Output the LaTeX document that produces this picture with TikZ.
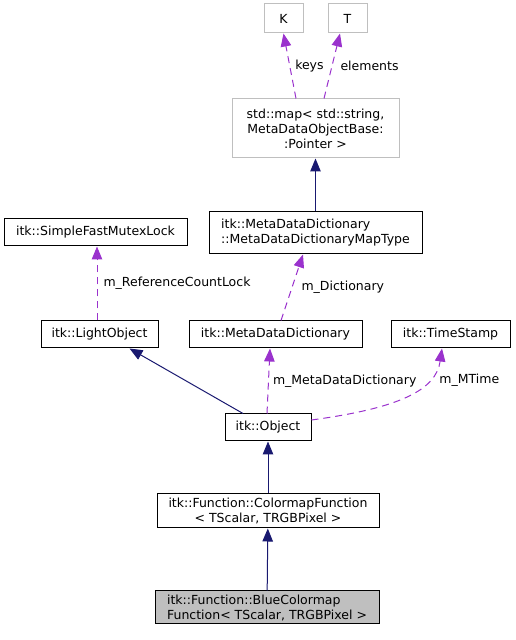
\documentclass[tikz,border=0pt]{standalone}
\usepackage{fontspec}
\setmainfont{DejaVu Sans}
\usetikzlibrary{positioning,arrows.meta}
\definecolor{inherit}{HTML}{191970}
\definecolor{usage}{HTML}{9A32CD}
\definecolor{extgrey}{HTML}{BFBFBF}

\begin{document}
\begin{tikzpicture}[
		x=1pt, y=1pt,
		> = {Triangle[length=13pt,width=10.5pt]},
		cls/.style = {draw, line width=1pt, inner sep=2pt, font=\fontsize{12.5}{15}\selectfont},
		ext/.style = {cls, draw=extgrey},
		cur/.style = {cls, fill=extgrey},
		inh/.style = {->, draw=inherit, line width=1pt},
		use/.style = {->, draw=usage, line width=1pt, dash pattern=on 7pt off 5pt},
		lbl/.style = {inner sep=1pt, font=\fontsize{12.5}{15}\selectfont}
		]
		\useasboundingbox (0,0) rectangle (515,640);
		% template arguments and map
		\node[ext, minimum width=39, minimum height=29] (K) at (283.5,621.5) {K};
		\node[ext, minimum width=39, minimum height=29] (T) at (347.5,621.5) {T};
		\node[ext, align=center, minimum width=167, minimum height=59] (map) at (315.5,511.5) {std::map< std::string,\\ MetaDataObjectBase:\\:Pointer >};
		\node[cls, align=left, minimum width=213, minimum height=42] (maptype) at (315.5,407) {itk::MetaDataDictionary\\::MetaDataDictionaryMapType};
		% members of itk::Object
		\node[cls, minimum width=183, minimum height=27] (mutex) at (95.5,407.5) {itk::SimpleFastMutexLock};
		\node[cls, minimum width=117, minimum height=27] (light) at (99.5,305.5) {itk::LightObject};
		\node[cls, minimum width=173, minimum height=27] (dict) at (275.5,305.5) {itk::MetaDataDictionary};
		\node[cls, minimum width=119, minimum height=27] (stamp) at (450.5,305.5) {itk::TimeStamp};
		\node[cls, minimum width=86, minimum height=27] (object) at (268,212.5) {itk::Object};
		% the function classes
		\node[cls, align=center, minimum width=222, minimum height=34] (cmap) at (268,129) {itk::Function::ColormapFunction\\< TScalar, TRGBPixel >};
		\node[cur, align=left, minimum width=224, minimum height=33] (blue) at (267,32.5) {itk::Function::BlueColormap\\Function< TScalar, TRGBPixel >};

		% Draw the usage and inheritance arrows
		\draw[use] ([xshift=-19.5]map.north) -- node[lbl, right=4pt] {keys} (K.south);
		\draw[use] ([xshift=8.5]map.north) -- node[lbl, right=7pt] {elements} ([xshift=-7.5]T.south);
		\draw[inh] (maptype) -- (map);
		\draw[use] ([xshift=-2.5]light.north) -- node[lbl, right=5pt] {m\_ReferenceCountLock} ([xshift=1.5]mutex.south);
		\draw[use] ([xshift=5.5]dict.north) -- node[lbl, right=8pt] {m\_Dictionary} ([xshift=-12.5]maptype.south);
		\draw[inh] ([xshift=-25]object.north) -- ([xshift=30]light.south);
		\draw[use] ([xshift=-1]object.north) -- node[lbl, right=3pt] {m\_MetaDataDictionary} ([xshift=-5.5]dict.south);
		\draw[use] ([yshift=7.5]object.east) .. controls (400,232) and (436,250) .. node[lbl, pos=0.7, right=10pt] {m\_MTime} ([xshift=-8.5]stamp.south);
		\draw[inh] (cmap) -- (object);
		\draw[inh] (blue) -- (cmap);
	\end{tikzpicture}
\end{document}
